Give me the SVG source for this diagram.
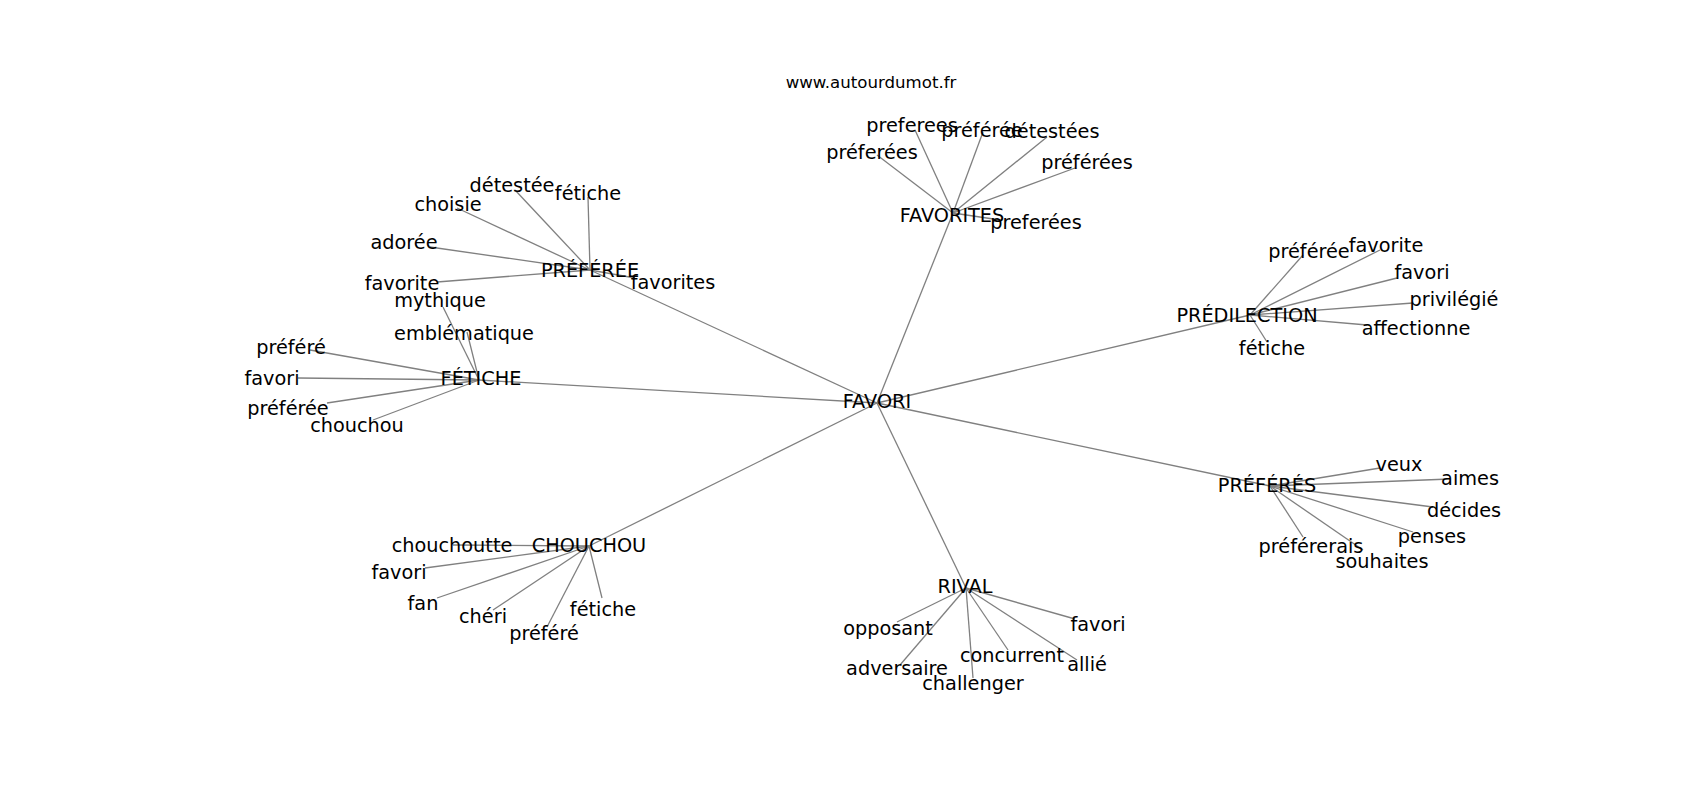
<svg xmlns="http://www.w3.org/2000/svg" width="1700" height="800" viewBox="0 0 1700 800">
<style>
.e{stroke:#808080;stroke-width:1.3;fill:none}
text{font-family:"DejaVu Sans","Liberation Sans",sans-serif;font-size:19.3px;fill:#000;text-anchor:middle}
.t{font-size:16.6px}
</style>
<rect width="1700" height="800" fill="#fff"/>
<text class="t" x="871" y="88">www.autourdumot.fr</text>
<g id="connectors">
<line class="e" x1="877" y1="403" x2="953" y2="213"/>
<line class="e" x1="877" y1="403" x2="590" y2="270"/>
<line class="e" x1="877" y1="403" x2="479" y2="380"/>
<line class="e" x1="877" y1="403" x2="1250" y2="315"/>
<line class="e" x1="877" y1="403" x2="1270" y2="486"/>
<line class="e" x1="877" y1="403" x2="589" y2="546"/>
<line class="e" x1="877" y1="403" x2="966" y2="588"/>
<line class="e" x1="953" y1="213" x2="915" y2="130"/>
<line class="e" x1="953" y1="213" x2="983" y2="132"/>
<line class="e" x1="953" y1="213" x2="1047" y2="137"/>
<line class="e" x1="953" y1="213" x2="1075" y2="168"/>
<line class="e" x1="953" y1="213" x2="877" y2="155"/>
<line class="e" x1="953" y1="213" x2="1000" y2="220"/>
<line class="e" x1="590" y1="270" x2="515" y2="190"/>
<line class="e" x1="590" y1="270" x2="588" y2="197"/>
<line class="e" x1="590" y1="270" x2="457" y2="208"/>
<line class="e" x1="590" y1="270" x2="430" y2="247"/>
<line class="e" x1="590" y1="270" x2="437" y2="282"/>
<line class="e" x1="590" y1="270" x2="635" y2="278"/>
<line class="e" x1="479" y1="380" x2="443" y2="307"/>
<line class="e" x1="479" y1="380" x2="467" y2="332"/>
<line class="e" x1="479" y1="380" x2="310" y2="350"/>
<line class="e" x1="479" y1="380" x2="298" y2="378"/>
<line class="e" x1="479" y1="380" x2="327" y2="403"/>
<line class="e" x1="479" y1="380" x2="373" y2="420"/>
<line class="e" x1="1250" y1="315" x2="1303" y2="255"/>
<line class="e" x1="1250" y1="315" x2="1380" y2="250"/>
<line class="e" x1="1250" y1="315" x2="1397" y2="278"/>
<line class="e" x1="1250" y1="315" x2="1413" y2="303"/>
<line class="e" x1="1250" y1="315" x2="1367" y2="325"/>
<line class="e" x1="1250" y1="315" x2="1267" y2="342"/>
<line class="e" x1="1270" y1="486" x2="1380" y2="468"/>
<line class="e" x1="1270" y1="486" x2="1450" y2="479"/>
<line class="e" x1="1270" y1="486" x2="1433" y2="507"/>
<line class="e" x1="1270" y1="486" x2="1413" y2="532"/>
<line class="e" x1="1270" y1="486" x2="1363" y2="550"/>
<line class="e" x1="1270" y1="486" x2="1303" y2="537"/>
<line class="e" x1="589" y1="546" x2="453" y2="545"/>
<line class="e" x1="589" y1="546" x2="425" y2="568"/>
<line class="e" x1="589" y1="546" x2="437" y2="598"/>
<line class="e" x1="589" y1="546" x2="493" y2="610"/>
<line class="e" x1="589" y1="546" x2="547" y2="627"/>
<line class="e" x1="589" y1="546" x2="602" y2="598"/>
<line class="e" x1="966" y1="588" x2="897" y2="622"/>
<line class="e" x1="966" y1="588" x2="1075" y2="619"/>
<line class="e" x1="966" y1="588" x2="1008" y2="650"/>
<line class="e" x1="966" y1="588" x2="1077" y2="660"/>
<line class="e" x1="966" y1="588" x2="900" y2="665"/>
<line class="e" x1="966" y1="588" x2="973" y2="678"/>
</g>
<g id="n-favori"><text x="877" y="408">FAVORI</text></g>
<g id="n-favorites"><text x="952" y="222">FAVORITES</text></g>
<g id="n-preferee"><text x="590" y="277">PRÉFÉRÉE</text></g>
<g id="n-fetiche"><text x="481" y="385">FÉTICHE</text></g>
<g id="n-predilection"><text x="1247" y="322">PRÉDILECTION</text></g>
<g id="n-preferes"><text x="1267" y="492">PRÉFÉRÉS</text></g>
<g id="n-chouchou"><text x="589" y="552">CHOUCHOU</text></g>
<g id="n-rival"><text x="965" y="593">RIVAL</text></g>
<g id="l-favorites">
<text x="912" y="132">preferees</text>
<text x="982" y="137">préférée</text>
<text x="1052" y="138">détestées</text>
<text x="1087" y="169">préférées</text>
<text x="872" y="159">préferées</text>
<text x="1036" y="229">preferées</text>
</g>
<g id="l-preferee">
<text x="512" y="192">détestée</text>
<text x="588" y="200">fétiche</text>
<text x="448" y="211">choisie</text>
<text x="404" y="249">adorée</text>
<text x="402" y="290">favorite</text>
<text x="673" y="289">favorites</text>
</g>
<g id="l-fetiche">
<text x="440" y="307">mythique</text>
<text x="464" y="340">emblématique</text>
<text x="291" y="354">préféré</text>
<text x="272" y="385">favori</text>
<text x="288" y="415">préférée</text>
<text x="357" y="432">chouchou</text>
</g>
<g id="l-predilection">
<text x="1309" y="258">préférée</text>
<text x="1386" y="252">favorite</text>
<text x="1422" y="279">favori</text>
<text x="1454" y="306">privilégié</text>
<text x="1416" y="335">affectionne</text>
<text x="1272" y="355">fétiche</text>
</g>
<g id="l-preferes">
<text x="1399" y="471">veux</text>
<text x="1470" y="485">aimes</text>
<text x="1464" y="517">décides</text>
<text x="1432" y="543">penses</text>
<text x="1382" y="568">souhaites</text>
<text x="1311" y="553">préférerais</text>
</g>
<g id="l-chouchou">
<text x="452" y="552">chouchoutte</text>
<text x="399" y="579">favori</text>
<text x="423" y="610">fan</text>
<text x="483" y="623">chéri</text>
<text x="544" y="640">préféré</text>
<text x="603" y="616">fétiche</text>
</g>
<g id="l-rival">
<text x="888" y="635">opposant</text>
<text x="1098" y="631">favori</text>
<text x="1012" y="662">concurrent</text>
<text x="1087" y="671">allié</text>
<text x="897" y="675">adversaire</text>
<text x="973" y="690">challenger</text>
</g>
</svg>
